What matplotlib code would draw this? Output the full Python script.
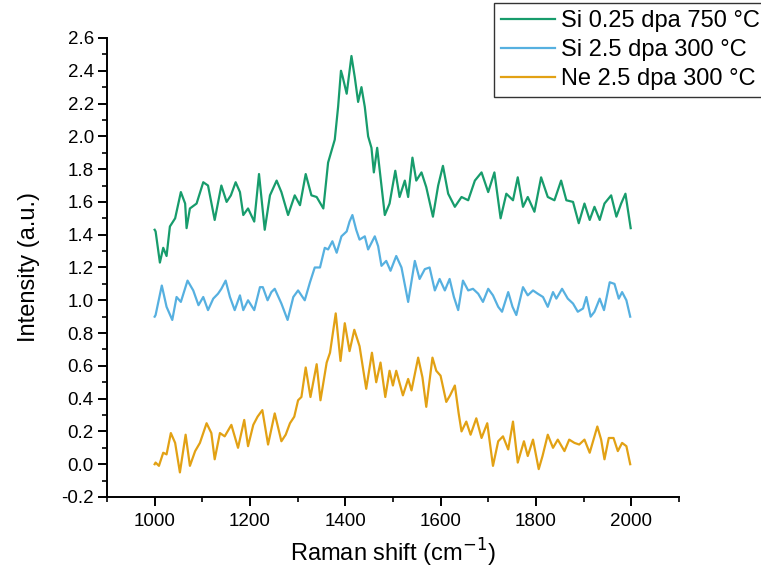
import numpy as np
import matplotlib
matplotlib.use('Agg')
import matplotlib.pyplot as plt
from matplotlib.ticker import MultipleLocator, FormatStrFormatter

plt.rcParams['font.family'] = ['Liberation Sans', 'DejaVu Sans']

# Si 0.25 dpa 750 C (green)
si025_x = [1000, 1002, 1011, 1018, 1025, 1032, 1043, 1055, 1064, 1067, 1074, 1088, 1102, 1112,
           1126, 1140, 1151, 1160, 1170, 1179, 1186, 1196, 1209, 1219, 1231, 1242, 1256, 1266,
           1280, 1294, 1305, 1317, 1329, 1340, 1354, 1364, 1378, 1385, 1391, 1394, 1403, 1413,
           1420, 1427, 1434, 1441, 1448, 1455, 1460, 1467, 1474, 1483, 1493, 1505, 1514, 1525,
           1532, 1541, 1549, 1560, 1570, 1584, 1595, 1605, 1616, 1630, 1644, 1658, 1672, 1686,
           1700, 1713, 1726, 1738, 1752, 1762, 1773, 1783, 1797, 1811, 1825, 1839, 1853, 1864,
           1878, 1890, 1902, 1913, 1923, 1934, 1944, 1958, 1969, 1979, 1988, 1999]
si025_y = [1.43, 1.42, 1.23, 1.32, 1.27, 1.45, 1.50, 1.66, 1.59, 1.44, 1.56, 1.59, 1.72, 1.70,
           1.49, 1.70, 1.60, 1.64, 1.72, 1.66, 1.52, 1.56, 1.48, 1.77, 1.43, 1.64, 1.73, 1.66,
           1.52, 1.64, 1.58, 1.77, 1.64, 1.63, 1.56, 1.84, 1.98, 2.18, 2.40, 2.37, 2.26, 2.49,
           2.36, 2.21, 2.30, 2.18, 2.00, 1.93, 1.78, 1.93, 1.75, 1.52, 1.59, 1.79, 1.63, 1.73,
           1.63, 1.87, 1.73, 1.78, 1.69, 1.51, 1.70, 1.82, 1.65, 1.57, 1.63, 1.61, 1.73, 1.78,
           1.66, 1.78, 1.50, 1.65, 1.61, 1.75, 1.57, 1.63, 1.54, 1.75, 1.63, 1.61, 1.73, 1.61,
           1.60, 1.47, 1.59, 1.49, 1.57, 1.49, 1.59, 1.64, 1.51, 1.59, 1.65, 1.44]

# Si 2.5 dpa 300 C (blue)
si25_x = [1000, 1002, 1015, 1025, 1037, 1046, 1055, 1069, 1081, 1092, 1102, 1112, 1123, 1133,
          1140, 1149, 1158, 1168, 1179, 1186, 1196, 1209, 1221, 1227, 1237, 1245, 1252, 1266,
          1279, 1291, 1301, 1315, 1326, 1336, 1347, 1357, 1364, 1373, 1382, 1392, 1403, 1409,
          1415, 1423, 1430, 1441, 1448, 1455, 1462, 1469, 1476, 1486, 1495, 1507, 1518, 1532,
          1546, 1556, 1567, 1577, 1588, 1598, 1609, 1619, 1628, 1637, 1647, 1658, 1668, 1679,
          1689, 1700, 1710, 1721, 1729, 1742, 1751, 1759, 1773, 1783, 1794, 1804, 1815, 1825,
          1836, 1843, 1855, 1867, 1878, 1888, 1899, 1906, 1915, 1923, 1934, 1943, 1955, 1965,
          1974, 1981, 1990, 1998]
si25_y = [0.90, 0.91, 1.09, 0.96, 0.88, 1.02, 0.99, 1.12, 1.06, 0.97, 1.02, 0.94, 1.01, 1.04,
          1.07, 1.12, 1.02, 0.94, 1.03, 0.94, 1.00, 0.94, 1.08, 1.08, 1.00, 1.05, 1.07, 0.98,
          0.88, 1.02, 1.06, 1.00, 1.11, 1.20, 1.20, 1.32, 1.31, 1.36, 1.29, 1.39, 1.42, 1.48,
          1.52, 1.43, 1.37, 1.39, 1.31, 1.35, 1.39, 1.33, 1.21, 1.24, 1.18, 1.27, 1.20, 0.99,
          1.24, 1.13, 1.19, 1.20, 1.06, 1.13, 1.06, 1.13, 1.02, 0.94, 1.12, 1.06, 1.07, 1.04,
          0.99, 1.07, 1.03, 0.96, 0.93, 1.05, 0.96, 0.91, 1.08, 1.03, 1.06, 1.04, 1.02, 0.96,
          1.05, 1.01, 1.07, 1.01, 0.98, 0.93, 0.95, 1.02, 0.90, 0.93, 1.01, 0.94, 1.11, 1.10,
          1.01, 1.05, 1.00, 0.90]

# Ne 2.5 dpa 300 C (orange)
ne25_x = [1000, 1002, 1009, 1018, 1025, 1034, 1043, 1053, 1065, 1074, 1085, 1095, 1109, 1119,
          1126, 1137, 1147, 1161, 1175, 1188, 1196, 1207, 1216, 1226, 1238, 1252, 1266, 1275,
          1284, 1293, 1301, 1308, 1317, 1327, 1340, 1348, 1361, 1368, 1380, 1390, 1399, 1409,
          1419, 1430, 1444, 1456, 1465, 1474, 1484, 1493, 1500, 1507, 1521, 1532, 1539, 1553,
          1562, 1570, 1583, 1591, 1600, 1612, 1620, 1630, 1638, 1644, 1654, 1663, 1675, 1686,
          1698, 1710, 1721, 1731, 1742, 1752, 1762, 1775, 1783, 1794, 1806, 1814, 1825, 1836,
          1846, 1860, 1870, 1881, 1891, 1902, 1913, 1929, 1937, 1944, 1953, 1963, 1972, 1981,
          1990, 1998]
ne25_y = [0.00, 0.01, -0.01, 0.07, 0.06, 0.19, 0.13, -0.05, 0.18, -0.01, 0.08, 0.13, 0.25, 0.19,
          0.03, 0.19, 0.17, 0.24, 0.10, 0.27, 0.11, 0.24, 0.29, 0.33, 0.12, 0.31, 0.14, 0.18,
          0.25, 0.29, 0.39, 0.41, 0.59, 0.41, 0.61, 0.39, 0.62, 0.68, 0.92, 0.63, 0.86, 0.69,
          0.82, 0.72, 0.46, 0.68, 0.50, 0.62, 0.41, 0.57, 0.48, 0.57, 0.42, 0.52, 0.45, 0.65,
          0.53, 0.35, 0.65, 0.57, 0.54, 0.38, 0.42, 0.48, 0.31, 0.20, 0.26, 0.18, 0.28, 0.16,
          0.25, -0.01, 0.14, 0.17, 0.09, 0.26, 0.01, 0.14, 0.05, 0.15, -0.03, 0.05, 0.18, 0.10,
          0.15, 0.08, 0.15, 0.13, 0.12, 0.15, 0.07, 0.23, 0.15, 0.03, 0.16, 0.16, 0.08, 0.13,
          0.11, 0.00]

labels = ['Si 0.25 dpa 750 °C', 'Si 2.5 dpa 300 °C', 'Ne 2.5 dpa 300 °C']
colors = ['#179c6c', '#56b0e0', '#e2a114']

fig = plt.figure(figsize=(7.61, 5.71), dpi=100)
ax = fig.add_axes([0.1406, 0.1296, 0.7514, 0.8039])

ax.plot(si025_x, si025_y, color=colors[0], lw=1.6, label=labels[0])
ax.plot(si25_x, si25_y, color=colors[1], lw=1.6, label=labels[1])
ax.plot(ne25_x, ne25_y, color=colors[2], lw=1.6, label=labels[2])

ax.set_xlim(900, 2100)
ax.set_ylim(-0.2, 2.6)
ax.set_xticks([1000, 1200, 1400, 1600, 1800, 2000])
ax.xaxis.set_minor_locator(MultipleLocator(100))
ax.yaxis.set_major_locator(MultipleLocator(0.2))
ax.yaxis.set_minor_locator(MultipleLocator(0.1))
ax.yaxis.set_major_formatter(FormatStrFormatter('%.1f'))

for s in ['top', 'right']:
    ax.spines[s].set_visible(False)
for s in ['left', 'bottom']:
    ax.spines[s].set_linewidth(1.4)
ax.tick_params(which='major', direction='out', length=6.5, width=1.4, labelsize=13.5)
ax.tick_params(which='minor', direction='out', length=3.8, width=1.2)
ax.tick_params(axis='x', which='major', pad=5)
ax.tick_params(axis='y', which='major', pad=3)

ax.set_xlabel('Raman shift (cm$^{-1}$)', fontsize=17, labelpad=5)
ax.set_ylabel('Intensity (a.u.)', fontsize=17, labelpad=15)

leg = ax.legend(loc='upper left', bbox_to_anchor=(494 / 761, 1 - 3 / 571),
                bbox_transform=fig.transFigure, fontsize=17, frameon=True,
                fancybox=False, framealpha=1, edgecolor='#333333',
                handlelength=2.3, handletextpad=0.25, labelspacing=0.3,
                borderpad=0.3, borderaxespad=0)
leg.get_frame().set_linewidth(1.0)

fig.savefig('out.png', dpi=100)
